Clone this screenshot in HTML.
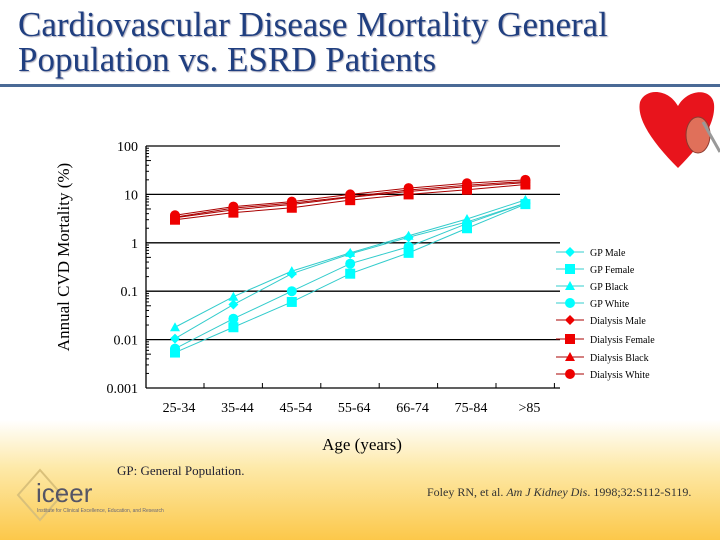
<!DOCTYPE html>
<html><head><meta charset="utf-8"><style>
body{margin:0;width:720px;height:540px;overflow:hidden;background:#fff;font-family:"Liberation Serif",serif;position:relative}
.title{position:absolute;left:18px;top:7px;font-size:35px;line-height:35px;color:#203f80;text-shadow:1px 1px 1px #aab;white-space:nowrap}
.rule{position:absolute;left:0;top:84px;width:720px;height:3px;background:#4a6a96}
.foot{position:absolute;left:0;top:420px;width:720px;height:120px;background:linear-gradient(#fff,#fde9a8 40%,#fcc84a)}
</style></head><body>
<div class="foot"></div>
<div class="title">Cardiovascular Disease Mortality General<br>Population vs. ESRD Patients</div>
<div class="rule"></div>
<svg width="720" height="540" style="position:absolute;left:0;top:0">
<g>
<path d="M678,168 C655,145 636,120 640,102 C645,88 668,88 678,106 C688,88 712,88 714,104 C716,125 698,148 678,168Z" fill="#e8141c"/>
<ellipse cx="698" cy="135" rx="12" ry="18" fill="#e0705a" stroke="#8a3a30"/>
<line x1="703" y1="122" x2="720" y2="152" stroke="#999" stroke-width="3"/>
</g>
<text x="69" y="257" transform="rotate(-90 69 257)" text-anchor="middle" font-size="17">Annual CVD Mortality (%)</text>
<text x="362" y="450" text-anchor="middle" font-size="17">Age (years)</text>
<g id="axes"></g><g id="lines"></g><g id="legend"></g>
<text x="117" y="475" font-size="13" fill="#223">GP: General Population.</text>
<text x="427" y="496" font-size="12" fill="#333">Foley RN, et al. <tspan font-style="italic">Am J Kidney Dis</tspan>. 1998;32:S112-S119.</text>
<g>
<path d="M40,470 L18,495 L40,520 L62,495Z" fill="none" stroke="#d9c07a" stroke-width="2"/>
<text x="36" y="502" font-family="Liberation Sans,sans-serif" font-size="26" fill="#556">iceer</text>
<text x="37" y="512" font-family="Liberation Sans,sans-serif" font-size="5" fill="#667">Institute for Clinical Excellence, Education, and Research</text>
</g>
</svg>
<script>
const categories=["25-34","35-44","45-54","55-64","66-74","75-84",">85"];
const yTicks=[100,10,1,0.1,0.01,0.001];
const yTickLabels=["100","10","1","0.1","0.01","0.001"];
const gpMale=[0.0105,0.053,0.23,0.59,1.3,2.7,6.6];
const gpFemale=[0.0054,0.018,0.06,0.23,0.62,2.0,6.3];
const gpBlack=[0.018,0.077,0.26,0.62,1.4,3.1,7.7];
const gpWhite=[0.0065,0.027,0.10,0.37,0.83,2.5,6.6];
const dMale=[3.3,4.8,6.2,8.7,11.5,14.5,17.5];
const dFemale=[3.0,4.2,5.3,7.6,10.0,12.5,16.0];
const dBlack=[3.4,5.2,6.6,9.0,12.3,15.5,18.5];
const dWhite=[3.7,5.6,7.1,10.0,13.5,17.0,20.0];
const series=[
 {name:"GP Male",v:gpMale,c:"#00ffff",l:"#3cc",m:"diamond"},
 {name:"GP Female",v:gpFemale,c:"#00ffff",l:"#3cc",m:"square"},
 {name:"GP Black",v:gpBlack,c:"#00ffff",l:"#3cc",m:"triangle"},
 {name:"GP White",v:gpWhite,c:"#00ffff",l:"#3cc",m:"circle"},
 {name:"Dialysis Male",v:dMale,c:"#ee0000",l:"#a00",m:"diamond"},
 {name:"Dialysis Female",v:dFemale,c:"#ee0000",l:"#a00",m:"square"},
 {name:"Dialysis Black",v:dBlack,c:"#ee0000",l:"#a00",m:"triangle"},
 {name:"Dialysis White",v:dWhite,c:"#ee0000",l:"#a00",m:"circle"}];
const NS="http://www.w3.org/2000/svg";
const X0=146,X1=560,Y100=146,DEC=48.4;
const x=i=>175+i*58.4;
const y=v=>Y100+(2-Math.log10(v))*DEC;
function mk(t,a,p){const e=document.createElementNS(NS,t);for(const k in a)e.setAttribute(k,a[k]);p.appendChild(e);return e;}
const ax=document.getElementById("axes");
yTicks.forEach((t,i)=>{
 const g=mk("g",{},ax);
 
 
 if(i<5)mk("line",{x1:X0,x2:X1,y1:y(t),y2:y(t),stroke:"#000","stroke-width":1.3},g);
 const tx=mk("text",{x:X0-8,y:y(t)+5,"text-anchor":"end","font-size":14},g);tx.textContent=yTickLabels[i];
 if(i<5)for(let k=2;k<10;k++){const yy=y(t/10*k);mk("line",{x1:X0,x2:X0+(k==5?5:3),y1:yy,y2:yy,stroke:"#000"},g);}
});
mk("line",{x1:X0,x2:X0,y1:Y100,y2:y(0.001),stroke:"#000","stroke-width":1.3},ax);
mk("line",{x1:X0,x2:X1,y1:y(0.001),y2:y(0.001),stroke:"#000","stroke-width":1.3},ax);
categories.forEach((c,i)=>{
 mk("line",{x1:x(i)+29,x2:x(i)+29,y1:y(0.001),y2:y(0.001)-5,stroke:"#000"},ax);
 const t=mk("text",{x:x(i)+4,y:y(0.001)+24,"text-anchor":"middle","font-size":14},ax);
 
 
 t.textContent=c;
});
function marker(m,cx,cy,c,p){
 const s=5;
 if(m=="diamond")return mk("polygon",{points:`${cx},${cy-s} ${cx+s},${cy} ${cx},${cy+s} ${cx-s},${cy}`,fill:c},p);
 if(m=="square")return mk("rect",{x:cx-s,y:cy-s,width:2*s,height:2*s,fill:c},p);
 if(m=="triangle")return mk("polygon",{points:`${cx},${cy-s} ${cx+s},${cy+s-1} ${cx-s},${cy+s-1}`,fill:c},p);
 return mk("circle",{cx:cx,cy:cy,r:s,fill:c},p);
}
const lg=document.getElementById("lines"),leg=document.getElementById("legend");
series.forEach((s,si)=>{
 const g=mk("g",{},lg);
 
 
 mk("polyline",{points:s.v.map((v,i)=>x(i)+","+y(v)).join(" "),fill:"none",stroke:s.l,"stroke-width":1},g);
 s.v.forEach((v,i)=>{const p=marker(s.m,x(i),y(v),s.c,g);});
 const ly=[252,269,286,303,320,339,357,374][si];
 const e=mk("g",{},leg);
 
 
 mk("line",{x1:556,x2:584,y1:ly,y2:ly,stroke:s.l},e);
 marker(s.m,570,ly,s.c,e);
 const t=mk("text",{x:590,y:ly+4,"font-size":10},e);t.textContent=s.name;
});
</script>
</body></html>
